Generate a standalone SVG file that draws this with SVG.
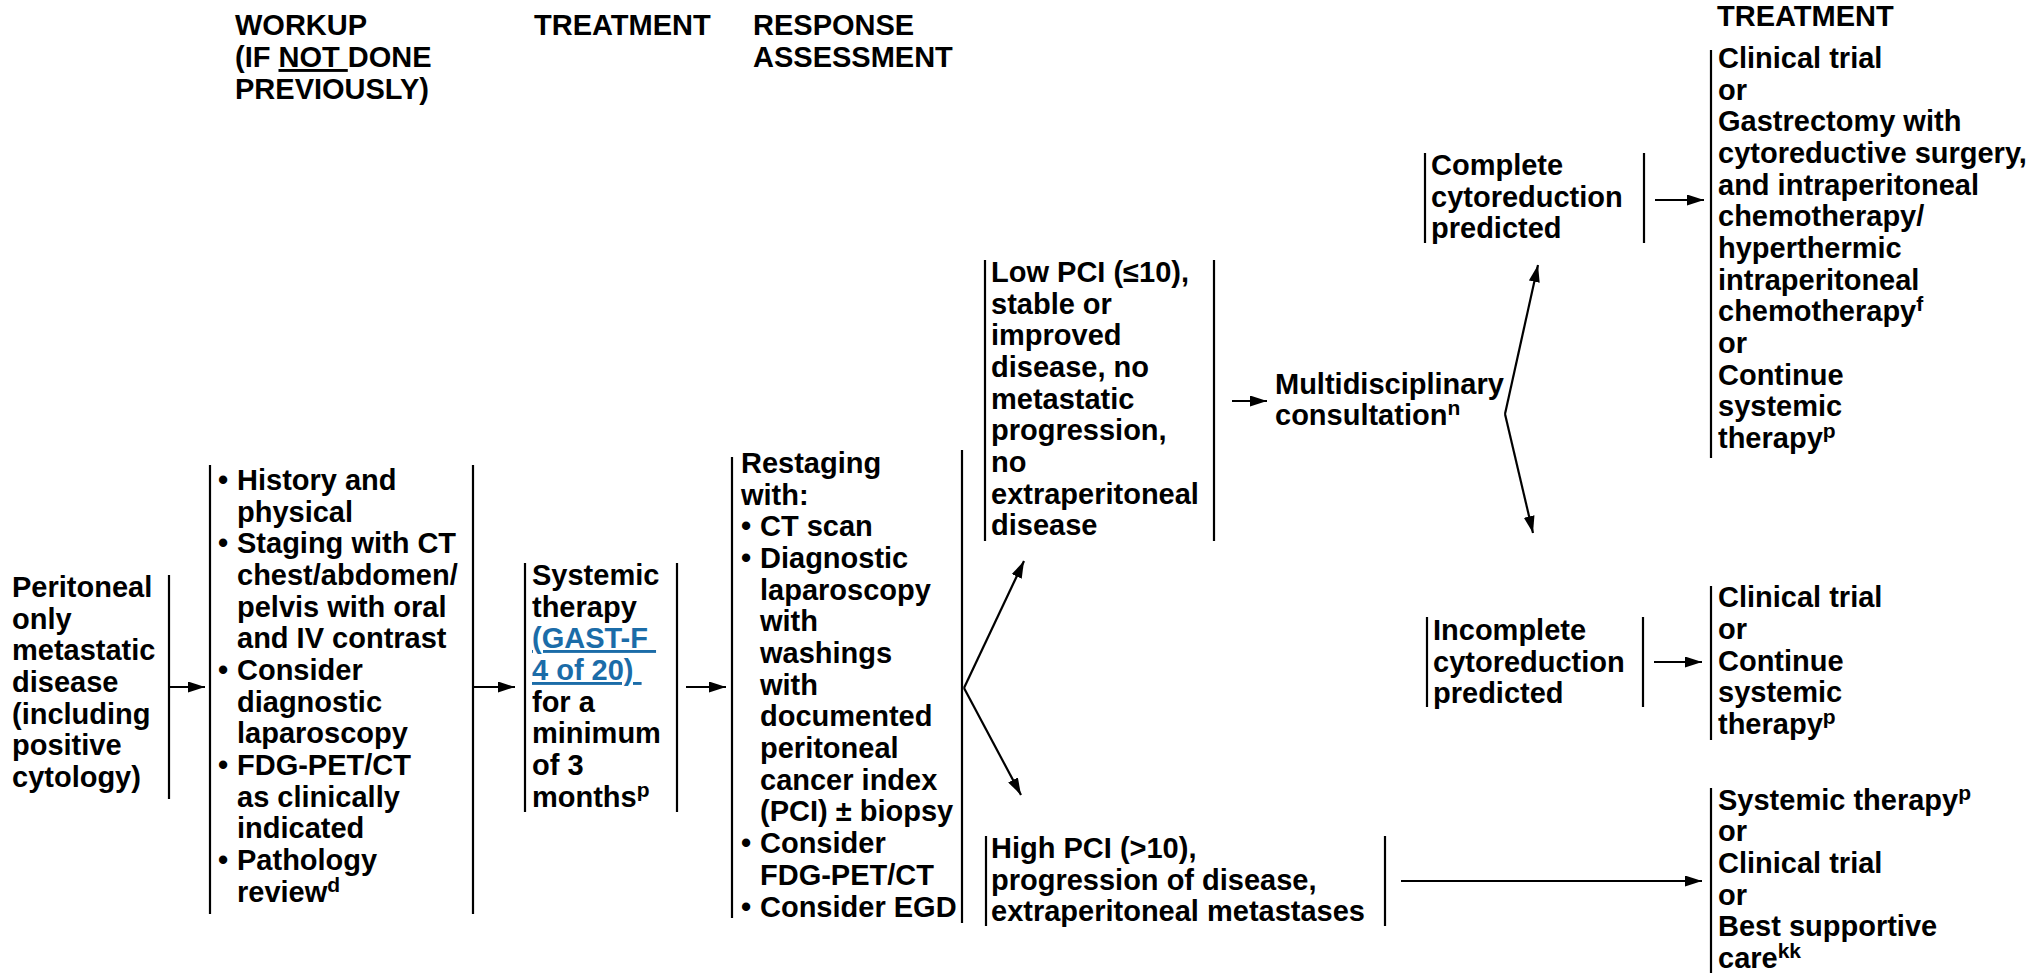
<svg xmlns="http://www.w3.org/2000/svg" width="2032" height="973" viewBox="0 0 2032 973">
<defs>
<style>
text{font-family:"Liberation Sans",Arial,sans-serif;font-weight:bold;font-size:29px;fill:#000}
.sup{font-size:21px}
.link{fill:#1b6ca8;text-decoration:underline}
.u{text-decoration:underline}
.bar{stroke:#000;stroke-width:2.2;fill:none}
.conn{stroke:#000;stroke-width:2.2;fill:none}
</style>
<marker id="ah" viewBox="0 0 17 11" refX="17" refY="5.5" markerWidth="17" markerHeight="11" markerUnits="userSpaceOnUse" orient="auto">
<path d="M0,0 L17,5.5 L0,11 z" fill="#000"/>
</marker>
</defs>
<rect width="2032" height="973" fill="#fff"/>

<g id="headers">
<text x="235" y="35">WORKUP</text>
<text x="235" y="67">(IF <tspan class="u">NOT&#160;</tspan>DONE</text>
<text x="235" y="99">PREVIOUSLY)</text>
<text x="534" y="35">TREATMENT</text>
<text x="753" y="35">RESPONSE</text>
<text x="753" y="67">ASSESSMENT</text>
<text x="1717" y="26">TREATMENT</text>
</g>

<g id="n-start">
<text x="12" y="597">Peritoneal</text>
<text x="12" y="629">only</text>
<text x="12" y="660">metastatic</text>
<text x="12" y="692">disease</text>
<text x="12" y="724">(including</text>
<text x="12" y="755">positive</text>
<text x="12" y="787">cytology)</text>
<line class="bar" x1="169" y1="575" x2="169" y2="799"/>
</g>

<g id="n-workup">
<line class="bar" x1="210" y1="465" x2="210" y2="914"/>
<line class="bar" x1="473" y1="465" x2="473" y2="914"/>
<text x="218" y="490">•</text><text x="237" y="490">History and</text>
<text x="237" y="522">physical</text>
<text x="218" y="553">•</text><text x="237" y="553">Staging with CT</text>
<text x="237" y="585">chest/abdomen/</text>
<text x="237" y="617">pelvis with oral</text>
<text x="237" y="648">and IV contrast</text>
<text x="218" y="680">•</text><text x="237" y="680">Consider</text>
<text x="237" y="712">diagnostic</text>
<text x="237" y="743">laparoscopy</text>
<text x="218" y="775">•</text><text x="237" y="775">FDG-PET/CT</text>
<text x="237" y="807">as clinically</text>
<text x="237" y="838">indicated</text>
<text x="218" y="870">•</text><text x="237" y="870">Pathology</text>
<text x="237" y="902">review<tspan class="sup" dy="-10">d</tspan></text>
</g>

<g id="n-systemic">
<line class="bar" x1="525" y1="563" x2="525" y2="812"/>
<line class="bar" x1="677" y1="563" x2="677" y2="812"/>
<text x="532" y="585">Systemic</text>
<text x="532" y="617">therapy</text>
<text x="532" y="648"><tspan class="link">(GAST-F&#160;</tspan></text>
<text x="532" y="680"><tspan class="link">4 of 20)&#160;</tspan></text>
<text x="532" y="712">for a</text>
<text x="532" y="743">minimum</text>
<text x="532" y="775">of 3</text>
<text x="532" y="807">months<tspan class="sup" dy="-10">p</tspan></text>
</g>

<g id="n-restaging">
<line class="bar" x1="732" y1="457" x2="732" y2="918"/>
<line class="bar" x1="962" y1="450" x2="962" y2="923"/>
<text x="741" y="473">Restaging</text>
<text x="741" y="505">with:</text>
<text x="741" y="536">•</text><text x="760" y="536">CT scan</text>
<text x="741" y="568">•</text><text x="760" y="568">Diagnostic</text>
<text x="760" y="600">laparoscopy</text>
<text x="760" y="631">with</text>
<text x="760" y="663">washings</text>
<text x="760" y="695">with</text>
<text x="760" y="726">documented</text>
<text x="760" y="758">peritoneal</text>
<text x="760" y="790">cancer index</text>
<text x="760" y="821">(PCI) ± biopsy</text>
<text x="741" y="853">•</text><text x="760" y="853">Consider</text>
<text x="760" y="885">FDG-PET/CT</text>
<text x="741" y="917">•</text><text x="760" y="917">Consider EGD</text>
</g>

<g id="n-lowpci">
<line class="bar" x1="985" y1="260" x2="985" y2="541"/>
<line class="bar" x1="1214" y1="260" x2="1214" y2="541"/>
<text x="991" y="282">Low PCI (≤10),</text>
<text x="991" y="314">stable or</text>
<text x="991" y="345">improved</text>
<text x="991" y="377">disease, no</text>
<text x="991" y="409">metastatic</text>
<text x="991" y="440">progression,</text>
<text x="991" y="472">no</text>
<text x="991" y="504">extraperitoneal</text>
<text x="991" y="535">disease</text>
</g>

<g id="n-highpci">
<line class="bar" x1="986" y1="836" x2="986" y2="926"/>
<line class="bar" x1="1385" y1="836" x2="1385" y2="926"/>
<text x="991" y="858">High PCI (&gt;10),</text>
<text x="991" y="890">progression of disease,</text>
<text x="991" y="921">extraperitoneal metastases</text>
</g>

<g id="n-multi">
<text x="1275" y="394">Multidisciplinary</text>
<text x="1275" y="425">consultation<tspan class="sup" dy="-10">n</tspan></text>
</g>

<g id="n-complete">
<line class="bar" x1="1425" y1="153" x2="1425" y2="243"/>
<line class="bar" x1="1644" y1="153" x2="1644" y2="243"/>
<text x="1431" y="175">Complete</text>
<text x="1431" y="207">cytoreduction</text>
<text x="1431" y="238">predicted</text>
</g>

<g id="n-incomplete">
<line class="bar" x1="1427" y1="617" x2="1427" y2="707"/>
<line class="bar" x1="1643" y1="617" x2="1643" y2="707"/>
<text x="1433" y="640">Incomplete</text>
<text x="1433" y="672">cytoreduction</text>
<text x="1433" y="703">predicted</text>
</g>

<g id="n-treat-complete">
<line class="bar" x1="1711" y1="50" x2="1711" y2="458"/>
<text x="1718" y="68">Clinical trial</text>
<text x="1718" y="100">or</text>
<text x="1718" y="131">Gastrectomy with</text>
<text x="1718" y="163">cytoreductive surgery,</text>
<text x="1718" y="195">and intraperitoneal</text>
<text x="1718" y="226">chemotherapy/</text>
<text x="1718" y="258">hyperthermic</text>
<text x="1718" y="290">intraperitoneal</text>
<text x="1718" y="321">chemotherapy<tspan class="sup" dy="-10">f</tspan></text>
<text x="1718" y="353">or</text>
<text x="1718" y="385">Continue</text>
<text x="1718" y="416">systemic</text>
<text x="1718" y="448">therapy<tspan class="sup" dy="-10">p</tspan></text>
</g>

<g id="n-treat-incomplete">
<line class="bar" x1="1711" y1="586" x2="1711" y2="740"/>
<text x="1718" y="607">Clinical trial</text>
<text x="1718" y="639">or</text>
<text x="1718" y="671">Continue</text>
<text x="1718" y="702">systemic</text>
<text x="1718" y="734">therapy<tspan class="sup" dy="-10">p</tspan></text>
</g>

<g id="n-treat-high">
<line class="bar" x1="1711" y1="788" x2="1711" y2="973"/>
<text x="1718" y="810">Systemic therapy<tspan class="sup" dy="-10">p</tspan></text>
<text x="1718" y="841">or</text>
<text x="1718" y="873">Clinical trial</text>
<text x="1718" y="905">or</text>
<text x="1718" y="936">Best supportive</text>
<text x="1718" y="968">care<tspan class="sup" dy="-10">kk</tspan></text>
</g>

<g id="connectors">
<line class="conn" x1="169" y1="687" x2="205" y2="687" marker-end="url(#ah)"/>
<line class="conn" x1="473" y1="687" x2="515" y2="687" marker-end="url(#ah)"/>
<line class="conn" x1="686" y1="687" x2="726" y2="687" marker-end="url(#ah)"/>
<line class="conn" x1="964" y1="688" x2="1024" y2="561" marker-end="url(#ah)"/>
<line class="conn" x1="964" y1="688" x2="1021" y2="795" marker-end="url(#ah)"/>
<line class="conn" x1="1232" y1="401" x2="1267" y2="401" marker-end="url(#ah)"/>
<line class="conn" x1="1505" y1="414" x2="1538" y2="265" marker-end="url(#ah)"/>
<line class="conn" x1="1505" y1="414" x2="1533" y2="533" marker-end="url(#ah)"/>
<line class="conn" x1="1655" y1="200" x2="1704" y2="200" marker-end="url(#ah)"/>
<line class="conn" x1="1654" y1="662" x2="1702" y2="662" marker-end="url(#ah)"/>
<line class="conn" x1="1401" y1="881" x2="1702" y2="881" marker-end="url(#ah)"/>
</g>
</svg>
